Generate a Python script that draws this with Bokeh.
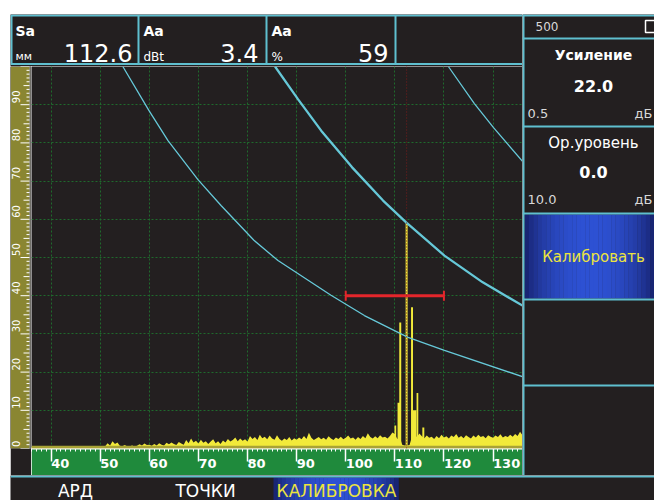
import math
from bokeh.plotting import figure
from bokeh.models import Range1d, Span, Spacer, FixedTicker, Grid
from bokeh.layouts import row, column
from bokeh.embed import file_html
from bokeh.resources import INLINE
from bokeh.core.properties import value

# ---------------- data ----------------
x_ticks = [40, 50, 60, 70, 80, 90, 100, 110, 120, 130]
y_grid = [10, 20, 30, 40, 50, 60, 70, 80, 90]
ruler_labels = [0, 10, 20, 30, 40, 50, 60, 70, 80, 90]

noise_x0 = 36.0
noise_dx = 0.5
noise_y = [
    0.4, 0.4, 0.4, 0.4, 0.4, 0.4, 0.4, 0.4, 0.4, 0.4,
    0.4, 0.4, 0.4, 0.4, 0.4, 0.4, 0.4, 0.4, 0.4, 0.4,
    0.4, 0.4, 0.4, 0.4, 0.4, 0.4, 0.4, 0.4, 0.5, 0.4,
    0.6, 1.4, 0.8, 1.9, 1.2, 1.6, 0.7, 0.6, 0.9, 0.5,
    0.6, 0.8, 0.5, 0.7, 1.1, 0.8, 1.3, 0.9, 1.0, 0.7,
    1.2, 0.8, 1.4, 1.0, 0.8, 1.5, 1.1, 1.6, 1.2, 0.9,
    1.7, 1.3, 1.0, 2.2, 1.4, 2.6, 1.6, 2.0, 1.3, 2.3,
    1.5, 1.9, 1.2, 1.8, 2.4, 1.4, 1.9, 1.2, 2.1, 1.6,
    2.5, 1.8, 2.2, 2.9, 1.9, 2.6, 2.0, 2.4, 1.8, 3.3,
    2.5, 3.0, 2.2, 3.6, 2.7, 3.1, 2.4, 3.4, 2.6, 2.3,
    3.5, 2.5, 2.0, 2.6, 2.2, 3.0, 2.1, 2.7, 2.3, 2.9,
    2.4, 3.3, 2.5, 4.1, 2.8, 2.2, 2.6, 3.0, 2.4, 2.8,
    2.3, 3.2, 2.6, 2.2, 2.9, 2.5, 3.1, 2.4, 2.8, 3.4,
    2.6, 2.9, 2.3, 3.0, 2.5, 3.3, 2.7, 4.0, 3.0, 2.6,
    3.2, 2.7, 3.5, 2.9, 3.1, 2.6, 3.3, 4.2, 3.8, 2.5,
    3.0, 1.0, 0.8, 0.8, 0.9, 3.2, 3.6, 3.0, 3.9, 3.2,
    2.7, 3.4, 2.8, 3.1, 2.5, 3.3, 2.7, 3.6, 2.9, 3.2,
    2.6, 3.4, 3.0, 3.8, 2.8, 3.3, 2.7, 3.5, 3.0, 2.6,
    3.4, 2.9, 3.6, 3.0, 3.3, 2.7, 3.5, 3.1, 2.8, 3.4,
    3.0, 3.7, 2.9, 3.3, 3.0, 3.6, 3.1, 3.8, 3.3, 4.4,
    3.5,
]

peak_x = [110.1, 110.9, 111.1, 112.4, 113.5, 113.9, 114.6, 115.8]
peak_w = [0.35, 0.7, 0.4, 0.4, 0.4, 1.0, 0.35, 0.4]
peak_y = [6.0, 12.0, 33.0, 59.0, 37.0, 10.0, 14.5, 5.5]

curve1_x = [54.6, 59.9, 63.8, 69.9, 74.6, 81.3, 86.2, 97.0, 103.8, 112.7, 120.1, 136.0]
curve1_y = [100, 88.5, 80.6, 70.4, 63.6, 54.5, 49.2, 40.1, 34.8, 29.1, 25.7, 18.8]
curve2_x = [85.6, 90.3, 95.0, 101.3, 107.6, 112.3, 120.1, 127.9, 136.0]
curve2_y = [100, 91.4, 83.2, 73.6, 64.9, 59.2, 50.5, 43.5, 37.4]
curve3_x = [120.9, 126.2, 130.1, 136.0]
curve3_y = [100, 90.3, 84.0, 75.2]

gate_start, gate_end, gate_level = 100, 120, 40
cursor_x = 112.4

sa_value, aa_db, aa_pct = "112.6", "3.4", "59"
gain_value, gain_step = "22.0", "0.5"
ref_level, ref_step = "0.0", "10.0"
range_value = "500"
menu_items = ["АРД", "ТОЧКИ", "КАЛИБРОВКА"]

# ---------------- styles ----------------
BG = "#231f20"
CYAN = "#5fbfcf"
CURVE = "#66c8d8"
YELLOW = "#f2ea3a"
GREEN = "#1f8a3c"
OLIVE = "#8a8632"
RED = "#e3262b"
FONT = "DejaVu Sans"


def deco_fig(w, h):
    f = figure(width=w, height=h, x_range=Range1d(0, w), y_range=Range1d(0, h),
               output_backend="svg", toolbar_location=None,
               x_axis_location=None, y_axis_location=None,
               min_border_left=0, min_border_right=0, min_border_top=0, min_border_bottom=0,
               background_fill_color=BG, border_fill_color=BG, outline_line_color=None)
    f.grid.visible = False
    return f


def txt(f, x, y, s, size, color="white", bold=False, align="left", baseline="middle", angle=0.0):
    f.text(x=[x], y=[y], text=[s], text_font=value(FONT), text_font_size=f"{size}px",
           text_font_style="bold" if bold else "normal", text_color=color,
           text_align=align, text_baseline=baseline, angle=angle)


def gradient(f, x0, x1, y0, y1, n=30, dark=(20, 28, 96), bright=(46, 82, 212)):
    w = (x1 - x0) / n
    lefts, rights, cols = [], [], []
    for i in range(n):
        t = math.sin(math.pi * (i + 0.5) / n) ** 0.6
        c = tuple(int(d + (b - d) * t) for d, b in zip(dark, bright))
        lefts.append(x0 + i * w)
        rights.append(x0 + (i + 1) * w + 0.3)
        cols.append("#%02x%02x%02x" % c)
    f.quad(left=lefts, right=rights, bottom=y0, top=y1, fill_color=cols, line_color=None)


# ---------------- main chart ----------------
p = figure(width=491, height=409, x_range=Range1d(36, 136), y_range=Range1d(0, 100),
           output_backend="svg", toolbar_location=None,
           x_axis_location="below", y_axis_location=None,
           min_border_left=0, min_border_right=0, min_border_top=0, min_border_bottom=27,
           background_fill_color=BG, border_fill_color=GREEN, outline_line_color=None)
p.ygrid.visible = False

ax = p.xaxis[0]
ax.ticker = FixedTicker(ticks=x_ticks, minor_ticks=list(range(36, 137)))
ax.axis_line_color = "white"
ax.axis_line_width = 2
ax.major_tick_line_color = "white"
ax.major_tick_line_width = 1.5
ax.major_tick_out = 13
ax.major_tick_in = 0
ax.minor_tick_line_color = "white"
ax.minor_tick_out = 3
ax.minor_tick_in = 0
ax.major_label_text_color = "white"
ax.major_label_text_font = FONT
ax.major_label_text_font_style = "bold"
ax.major_label_text_font_size = "13px"
ax.major_label_standoff = -6
ax.major_label_overrides = {t: ("\u00a0" * (6 if t >= 100 else 4)) + str(t) for t in x_ticks}

p.xgrid.grid_line_color = "#1f6a2c"
p.xgrid.grid_line_dash = "2 2"
p.add_layout(Grid(dimension=1, ticker=FixedTicker(ticks=y_grid),
                  grid_line_color="#1f6a2c", grid_line_dash="2 2"))

noise_x = [noise_x0 + i * noise_dx for i in range(len(noise_y))]
p.varea(x=noise_x, y1=0, y2=noise_y, fill_color=YELLOW)
p.add_layout(Span(location=0.3, dimension="width", line_color="#a8a236", line_width=3))
p.vbar(x=peak_x, width=peak_w, top=peak_y, bottom=0, fill_color=YELLOW, line_color=None)

p.line(curve1_x, curve1_y, line_color=CURVE, line_width=1.3)
p.line(curve2_x, curve2_y, line_color=CURVE, line_width=2.3)
p.line(curve3_x, curve3_y, line_color=CURVE, line_width=1.3)

p.add_layout(Span(location=cursor_x, dimension="height", line_color="#7a1c1c",
                  line_dash="1 2", line_width=1))

p.segment(x0=[gate_start], y0=[gate_level], x1=[gate_end], y1=[gate_level],
          line_color=RED, line_width=3)
p.segment(x0=[gate_start, gate_end], y0=[gate_level - 1.3] * 2,
          x1=[gate_start, gate_end], y1=[gate_level + 1.3] * 2,
          line_color=RED, line_width=2)

# ---------------- left ruler ----------------
r = figure(width=21, height=409, x_range=Range1d(0, 21), y_range=p.y_range,
           output_backend="svg", toolbar_location=None,
           x_axis_location=None, y_axis_location=None,
           min_border_left=0, min_border_right=0, min_border_top=0, min_border_bottom=27,
           background_fill_color=BG, border_fill_color=BG, outline_line_color=None)
r.grid.visible = False
r.quad(left=0, right=19, bottom=0, top=100, fill_color=OLIVE, line_color=None)
r.segment(x0=[19.5], y0=[0], x1=[19.5], y1=[100], line_color="#bdbdb0", line_width=1)
rt = list(range(0, 101))
r.segment(x0=[19 - (9 if v % 10 == 0 else 6 if v % 5 == 0 else 3) for v in rt], y0=rt,
          x1=[19] * len(rt), y1=rt, line_color="white", line_width=1)
r.text(x=[5.5] * len(ruler_labels), y=[v + 0.4 for v in ruler_labels],
       text=[str(v) for v in ruler_labels], text_font=value(FONT), text_font_size="10px",
       text_color="white", text_align="left", text_baseline="middle", angle=math.pi / 2)

# ---------------- header ----------------
h = deco_fig(512, 52)
h.segment(x0=[0, 0, 1, 128, 256, 385], y0=[51, 2.5, 2.5, 2.5, 2.5, 2.5],
          x1=[512, 512, 1, 128, 256, 385], y1=[51, 2.5, 51, 51, 51, 51],
          line_color=CYAN, line_width=2)
txt(h, 5, 36, "Sa", 14, bold=True)
txt(h, 5, 10, "мм", 11)
txt(h, 122, 14, sa_value, 24, align="right")
txt(h, 133, 36, "Aa", 14, bold=True)
txt(h, 133, 10, "dBt", 12)
txt(h, 248, 14, aa_db, 24, align="right")
txt(h, 261, 36, "Aa", 14, bold=True)
txt(h, 261, 10, "%", 12)
txt(h, 378, 14, aa_pct, 24, align="right")

# ---------------- right panel ----------------
rp = deco_fig(132, 461)
gradient(rp, 2, 132, 177, 261)
rp.segment(x0=[1, 0, 0, 0, 0, 0, 0], y0=[0, 460, 437, 349, 262, 176, 90],
           x1=[1, 132, 132, 132, 132, 132, 132], y1=[461, 460, 437, 349, 262, 176, 90],
           line_color=CYAN, line_width=2)
txt(rp, 13, 449, range_value, 12, color="#d8d8d8")
rp.quad(left=[123], right=[140], bottom=[443], top=[455], fill_color=None,
        line_color="white", line_width=1.5)
txt(rp, 71, 421, "Усиление", 14, bold=True, align="center")
txt(rp, 71, 390, gain_value, 16, bold=True, align="center")
txt(rp, 5, 362, gain_step, 13, color="#d8d8d8")
txt(rp, 130, 362, "дБ", 13, color="#d8d8d8", align="right")
txt(rp, 71, 333, "Ор.уровень", 15, align="center")
txt(rp, 71, 304, ref_level, 16, bold=True, align="center")
txt(rp, 5, 276, ref_step, 13, color="#d8d8d8")
txt(rp, 130, 276, "дБ", 13, color="#d8d8d8", align="right")
txt(rp, 71, 219, "Калибровать", 15, color="#ece43e", align="center")

# ---------------- bottom menu ----------------
b = deco_fig(644, 25)
gradient(b, 263, 388, 0, 23)
b.segment(x0=[0], y0=[24], x1=[644], y1=[24], line_color=CYAN, line_width=2)
txt(b, 65, 10, menu_items[0], 17, align="center")
txt(b, 195, 10, menu_items[1], 17, align="center")
txt(b, 326, 10, menu_items[2], 17, color="#ece43e", align="center")

# ---------------- layout ----------------
left_col = column(h, row(r, p))
screen = column(row(left_col, rp), b)
layout = column(Spacer(width=654, height=14), row(Spacer(width=10, height=486), screen))

open("out.html", "w").write(file_html(layout, INLINE))
